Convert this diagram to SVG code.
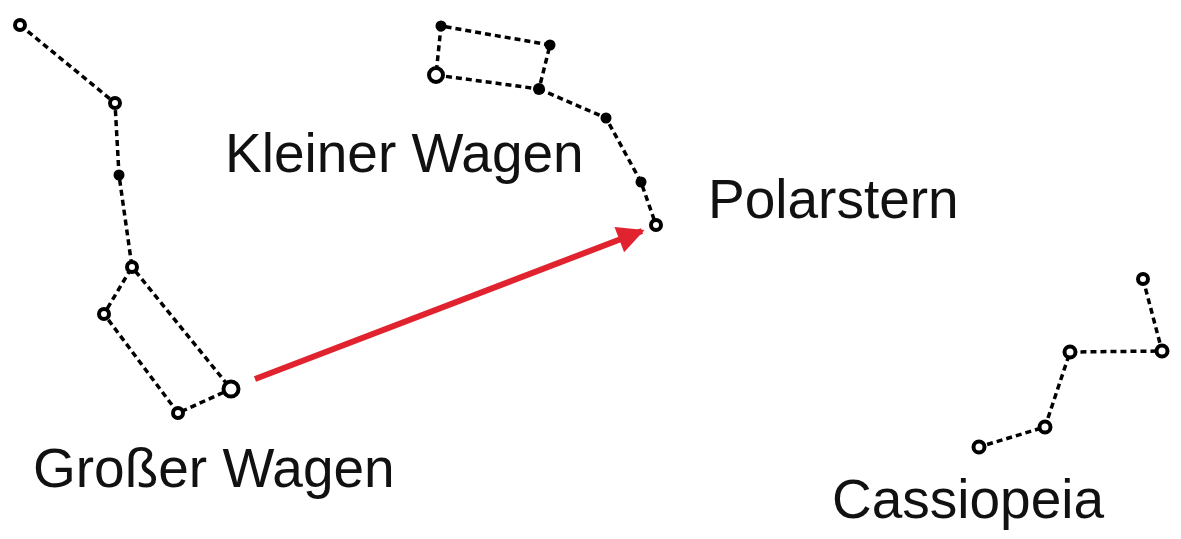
<svg xmlns="http://www.w3.org/2000/svg" width="1181" height="539" viewBox="0 0 1181 539">
<defs>
<style>
.l{fill:none;stroke:#000;stroke-width:3.5;stroke-dasharray:6 4}
.o{fill:#fff;stroke:#000;stroke-width:4}
.f{fill:#000}
.t{font-family:"Liberation Sans",Arial,sans-serif;font-size:55px;fill:#111}
</style>
<marker id="ah" viewBox="0 0 10 10" refX="9" refY="5" markerWidth="6" markerHeight="4.5" orient="auto" markerUnits="strokeWidth"><path d="M0,0L10,5L0,10z" fill="#e0232e"/></marker>
</defs>
<rect width="1181" height="539" fill="#fff"/>
<g id="connectors">
<polyline class="l" points="20,25 115,103 119,175 132,267 104,314 178,413 231,389 132,267"/>
<polyline class="l" points="550,45 441,26 436,75 539,89 550,45"/>
<polyline class="l" points="539,89 606,118 641,182 656,225"/>
<polyline class="l" points="1143,279 1162,351 1070,352 1045,427 979,447"/>
<line x1="255" y1="379" x2="642" y2="231" stroke="#e0232e" stroke-width="6" marker-end="url(#ah)"/>
</g>
<g id="grosser-wagen">
<circle class="o" cx="20" cy="25" r="5"/><circle class="o" cx="115" cy="103" r="5"/><circle class="f" cx="119" cy="175" r="5.5"/>
<circle class="o" cx="132" cy="267" r="5"/><circle class="o" cx="104" cy="314" r="5"/><circle class="o" cx="178" cy="413" r="5"/>
<circle class="o" cx="231" cy="389" r="7.5"/>
<text class="t" x="33" y="487">Großer Wagen</text>
</g>
<g id="kleiner-wagen">
<circle class="f" cx="441" cy="26" r="5.5"/><circle class="f" cx="550" cy="45" r="5.5"/><circle class="o" cx="436" cy="75" r="7"/>
<circle class="f" cx="539" cy="89" r="6"/><circle class="f" cx="606" cy="118" r="5.5"/><circle class="f" cx="641" cy="182" r="5.5"/>
<text class="t" x="225" y="172">Kleiner Wagen</text>
</g>
<g id="polarstern">
<circle class="o" cx="656" cy="225" r="5"/>
<text class="t" x="708" y="218">Polarstern</text>
</g>
<g id="cassiopeia">
<circle class="o" cx="1143" cy="279" r="5"/><circle class="o" cx="1162" cy="351" r="5.5"/><circle class="o" cx="1070" cy="352" r="5.5"/>
<circle class="o" cx="1045" cy="427" r="5.5"/><circle class="o" cx="979" cy="447" r="5.5"/>
<text class="t" x="832" y="518">Cassiopeia</text>
</g>
</svg>
